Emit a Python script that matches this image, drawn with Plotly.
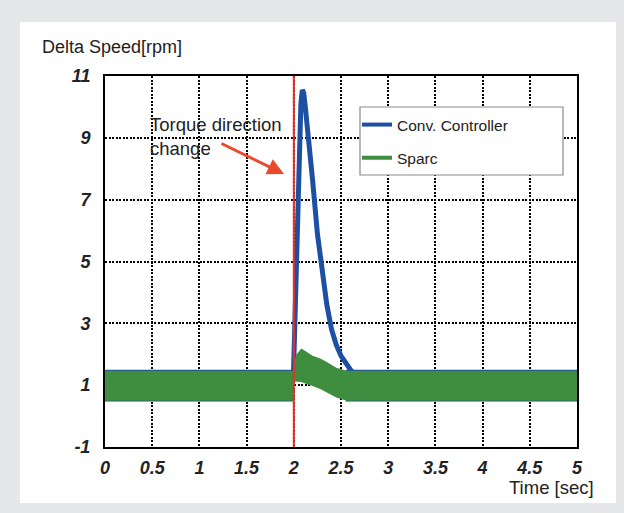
import plotly.graph_objects as go

# ---------------- data ----------------
x_ticks = [0, 0.5, 1, 1.5, 2, 2.5, 3, 3.5, 4, 4.5, 5]
x_tick_text = ["0", "0.5", "1", "1.5", "2", "2.5", "3", "3.5", "4", "4.5", "5"]
y_ticks = [-1, 1, 3, 5, 7, 9, 11]
y_tick_text = ["-1", "1", "3", "5", "7", "9", "11"]
x_range = [0, 5]
y_range = [-1, 11]

torque_change_time = 2.0

# Conv. Controller – noise band envelope before and after the transient
conv_band1_t = [0.0, 2.0]
conv_band1_hi = [1.5, 1.5]
conv_band1_lo = [0.47, 0.47]
conv_band2_t = [2.55, 5.0]
conv_band2_hi = [1.5, 1.5]
conv_band2_lo = [0.47, 0.47]

# Conv. Controller – transient response (centre of trace)
conv_peak_t = [1.995, 2.005, 2.02, 2.04, 2.06, 2.075, 2.09, 2.105, 2.12, 2.14, 2.165,
               2.2, 2.25, 2.3, 2.35, 2.4, 2.45, 2.5, 2.55, 2.6, 2.7]
conv_peak_v = [1.2, 2.4, 4.5, 6.8, 8.9, 10.1, 10.55, 10.45, 10.05, 9.5, 8.8,
               7.6, 5.9, 4.6, 3.6, 2.8, 2.3, 1.95, 1.7, 1.5, 1.2]

# Sparc – noise band envelope
sparc_t = [0.0, 2.0, 2.005, 2.03, 2.08, 2.12, 2.16, 2.2, 2.28, 2.35, 2.45, 2.56, 2.65, 5.0]
sparc_hi = [1.47, 1.47, 1.8, 2.0, 2.19, 2.1, 2.02, 1.95, 1.86, 1.75, 1.56, 1.47, 1.47, 1.47]
sparc_lo = [0.5, 0.5, 1.12, 1.12, 1.1, 1.05, 1.0, 0.97, 0.88, 0.76, 0.6, 0.5, 0.5, 0.5]

# annotation arrow (tail -> head), read in data units
arrow_tail = (1.218, 8.84)
arrow_head = (1.896, 7.83)
note_pos = (0.46, 9.85)

BLUE = "#1d4fa3"
GREEN = "#3f8d3e"
RED = "#e8302a"
ARROW = "#ea4a2c"
BG = "#e6e7e9"
FONT = "Liberation Sans, Arial, sans-serif"


def band(t, hi, lo):
    return list(t) + list(t)[::-1], list(hi) + list(lo)[::-1]


fig = go.Figure()

for bt, bh, bl in [(conv_band1_t, conv_band1_hi, conv_band1_lo),
                   (conv_band2_t, conv_band2_hi, conv_band2_lo)]:
    bx, by = band(bt, bh, bl)
    fig.add_trace(go.Scatter(x=bx, y=by, fill="toself", fillcolor=BLUE,
                             mode="lines", line=dict(width=0, color=BLUE),
                             showlegend=False, hoverinfo="skip"))

fig.add_trace(go.Scatter(x=conv_peak_t, y=conv_peak_v, mode="lines",
                         line=dict(color=BLUE, width=5),
                         showlegend=False, hoverinfo="skip"))

sx, sy = band(sparc_t, sparc_hi, sparc_lo)
fig.add_trace(go.Scatter(x=sx, y=sy, fill="toself", fillcolor=GREEN,
                         mode="lines", line=dict(width=0, color=GREEN),
                         showlegend=False, hoverinfo="skip"))

fig.add_trace(go.Scatter(x=[torque_change_time, torque_change_time], y=y_range,
                         mode="lines", line=dict(color=RED, width=2),
                         showlegend=False, hoverinfo="skip"))

# legend entries
fig.add_trace(go.Scatter(x=[None], y=[None], mode="lines", name="Conv. Controller",
                         line=dict(color=BLUE, width=4), legendgroup="a"))
fig.add_trace(go.Scatter(x=[None], y=[None], mode="lines", name="Sparc",
                         line=dict(color=GREEN, width=4), legendgroup="b"))

L, R, T, B = 105, 47, 76, 66
W, H = 624, 513
pw, ph = W - L - R, H - T - B


def px(xp):
    return (xp - L) / pw


def py(yp):
    return (H - B - yp) / ph


fig.update_layout(
    width=W, height=H,
    margin=dict(l=L, r=R, t=T, b=B),
    paper_bgcolor=BG, plot_bgcolor="white",
    font=dict(family=FONT, color="#222"),
    showlegend=True,
    legend=dict(x=px(357), y=py(108), xanchor="left", yanchor="top",
                bgcolor="rgba(0,0,0,0)", borderwidth=0,
                font=dict(size=15.5, family=FONT, color="#222"),
                tracegroupgap=10),
    shapes=[
        dict(type="rect", xref="paper", yref="paper", layer="below",
             x0=px(20), x1=px(616), y0=py(503), y1=py(22),
             fillcolor="white", line=dict(width=0)),
        dict(type="rect", xref="paper", yref="paper", layer="above",
             x0=px(360), x1=px(563), y0=py(175), y1=py(107),
             fillcolor="white", line=dict(color="#8a8a8a", width=1.2)),
    ],
    annotations=[
        dict(text="Delta Speed[rpm]", xref="paper", yref="paper",
             x=px(40), y=py(47), xanchor="left", yanchor="middle",
             showarrow=False, font=dict(size=18, family=FONT, color="#222")),
        dict(text="Time [sec]", xref="paper", yref="paper",
             x=px(596), y=py(487), xanchor="right", yanchor="middle",
             showarrow=False, font=dict(size=18.5, family=FONT, color="#222")),
        dict(text="Torque direction<br>change", xref="x", yref="y",
             x=note_pos[0], y=note_pos[1], xanchor="left", yanchor="top",
             align="left", showarrow=False,
             font=dict(size=18.5, family=FONT, color="#222")),
        dict(text="", xref="x", yref="y", axref="x", ayref="y",
             x=arrow_head[0], y=arrow_head[1], ax=arrow_tail[0], ay=arrow_tail[1],
             showarrow=True, arrowhead=2, arrowwidth=3, arrowsize=1.1,
             arrowcolor=ARROW, standoff=0),
    ],
)

tickfont = dict(size=18, family=FONT, color="#222", weight="bold", style="italic")
fig.update_xaxes(range=x_range, tickvals=x_ticks, ticktext=x_tick_text,
                 showgrid=True, gridcolor="black", griddash="2px,1.5px", gridwidth=1.5,
                 showline=True, linecolor="black", linewidth=2, mirror=True,
                 zeroline=False, ticks="", tickfont=tickfont, ticklabelstandoff=3)
fig.update_yaxes(range=y_range, tickvals=y_ticks, ticktext=y_tick_text,
                 showgrid=True, gridcolor="black", griddash="2px,1.5px", gridwidth=1.5,
                 showline=True, linecolor="black", linewidth=2, mirror=True,
                 zeroline=False, ticks="", tickfont=tickfont, ticklabelstandoff=9)

fig.write_html(
    "out.html",
    config={"displayModeBar": False},
    post_script="document.body.style.margin='0';document.body.style.background='" + BG + "';",
)
